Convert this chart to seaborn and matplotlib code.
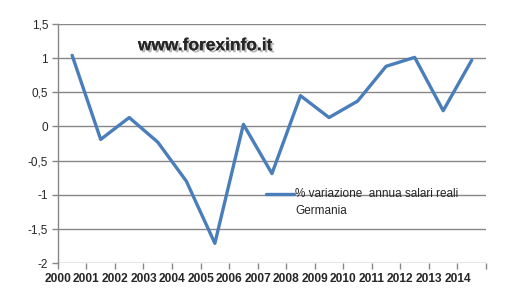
import matplotlib
matplotlib.use("Agg")
import matplotlib.pyplot as plt
import matplotlib.patheffects as pe
import seaborn as sns
import numpy as np
import pandas as pd

years = [str(y) for y in range(2000, 2015)]
values = [1.04, -0.19, 0.13, -0.23, -0.80, -1.71, 0.03, -0.69, 0.45, 0.13,
          0.37, 0.88, 1.01, 0.23, 0.97]
series_name = "% variazione  annua salari reali\nGermania"
yticks = [-2, -1.5, -1, -0.5, 0, 0.5, 1, 1.5]
ytick_labels = ["-2", "-1,5", "-1", "-0,5", "0", "0,5", "1", "1,5"]

sns.set_style("white")
plt.rcParams['font.family'] = ['Liberation Sans', 'DejaVu Sans']

fig = plt.figure(figsize=(5.26, 2.95), dpi=100)
ax = fig.add_axes([0.110, 0.108, 0.814, 0.811])

df = pd.DataFrame({"pos": np.arange(len(years)) + 0.5, "val": values})
sns.lineplot(data=df, x="pos", y="val", ax=ax, color="#4A7EBB", linewidth=2.4,
             label=series_name)

grid_c = "#878787"
for v in yticks:
    ax.axhline(v, color=grid_c, linewidth=1.0, zorder=0)

ax.set_xlim(0, len(years))
ax.set_ylim(-2, 1.5)
ax.set_yticks(yticks)
ax.set_yticklabels(ytick_labels, fontsize=8.5)
ax.set_xticks(np.arange(len(years) + 1))
ax.set_xticklabels(years + [""], fontsize=8.6, fontweight="bold",
                   family=['Liberation Sans Narrow', 'Liberation Sans'])
ax.set_xlabel("")
ax.set_ylabel("")
for s in ["top", "right", "bottom"]:
    ax.spines[s].set_visible(False)
ax.spines["left"].set_color(grid_c)
ax.spines["left"].set_linewidth(1.0)
ax.tick_params(axis="both", which="both", length=4, width=1.0, color=grid_c,
               direction="out", left=True, bottom=True, pad=3)
ax.tick_params(axis="x", pad=3)

leg = ax.legend(loc="upper left", bbox_to_anchor=(0.476, 0.334), frameon=False,
                fontsize=8.5, handlelength=2.3, handletextpad=0.15,
                borderaxespad=0)
for t in leg.get_texts():
    t.set_linespacing(1.55)
for ln in leg.get_lines():
    yd = np.asarray(ln.get_ydata(), dtype=float)
    ln.set_ydata(yd + 6.5)

fig.text(0.39, 0.845, "www.forexinfo.it", fontsize=12.5, fontweight="bold",
         ha="center", va="center",
         path_effects=[pe.withSimplePatchShadow(offset=(1.5, -1.5),
                                                 shadow_rgbFace="#888888",
                                                 alpha=0.6), pe.Normal()])

fig.savefig("out.png", dpi=100)
